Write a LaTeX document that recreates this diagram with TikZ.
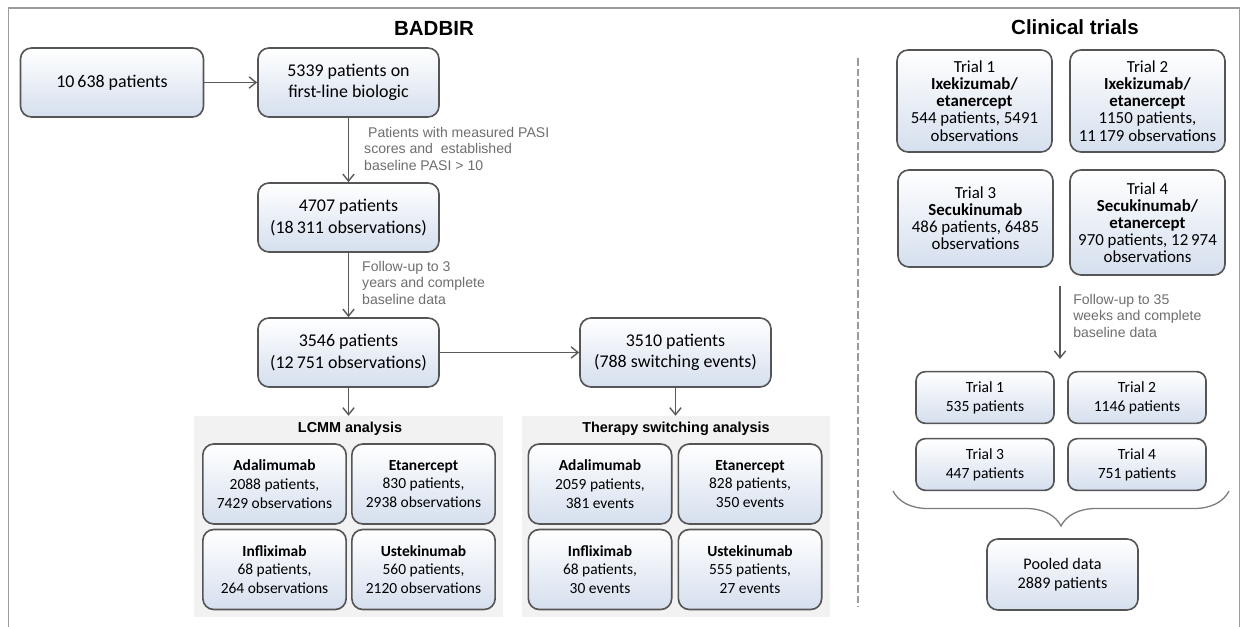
\documentclass[tikz,border=0pt]{standalone}
\usepackage{fontspec}
\setmainfont{Carlito}
\newfontfamily\arialfont{Liberation Sans}
\usetikzlibrary{positioning,arrows.meta,decorations.pathreplacing,calc}

\definecolor{framegray}{RGB}{155,155,155}
\definecolor{boxline}{RGB}{85,85,85}
\definecolor{boxblue}{RGB}{213,223,238}
\definecolor{notegray}{RGB}{110,110,110}
\definecolor{panelgray}{RGB}{242,242,242}
\definecolor{arrowgray}{RGB}{90,90,90}

\begin{document}
\begin{tikzpicture}[
    x=0.03cm, y=-0.03cm,
    box/.style={draw=boxline, line width=1.4pt, rounded corners=0.33cm,
        top color=white, bottom color=boxblue, align=center, inner sep=0pt},
    bigbox/.style={box, minimum width=5.43cm, minimum height=2.07cm,
        font=\fontsize{15.3}{18.5}\selectfont},
    drugbox/.style={box, minimum width=4.3cm, minimum height=2.4cm,
        font=\fontsize{13.2}{16}\selectfont},
    trialbox/.style={box, minimum width=4.65cm,
        font=\fontsize{14.4}{14.6}\selectfont},
    smallbox/.style={box, rounded corners=0.28cm, minimum width=4.14cm,
        minimum height=1.55cm, font=\fontsize{13.3}{16}\selectfont},
    panel/.style={fill=panelgray, draw=none, minimum width=9.25cm,
        minimum height=6.03cm, inner sep=0pt},
    flow/.style={draw=arrowgray, line width=1.2pt,
        -{Straight Barb[length=2.1mm,width=3.4mm]}},
    note/.style={text=notegray, anchor=north west, inner sep=0pt, align=left,
        font=\arialfont\fontsize{12}{14}\selectfont},
    heading/.style={font=\arialfont\bfseries\fontsize{17.5}{20}\selectfont},
    subheading/.style={font=\arialfont\bfseries\fontsize{12.3}{14}\selectfont}
]
    \useasboundingbox (0,0) rectangle (1241,627);

    % Rahmen (unten offen)
    \draw[framegray, line width=1.5pt] (8.5,627) -- (8.5,8) -- (1239.5,8) -- (1239.5,627);
    % Trennlinie
    \draw[framegray, line width=1.3pt, dash pattern=on 6.5pt off 2.5pt] (858,58) -- (858,607);

    % Titel
    \node[heading] (tbadbir) at (434,28) {BADBIR};
    \node[heading] (ttrials) at (1075,27) {Clinical trials};

    % BADBIR-Kette
    \node[bigbox, minimum width=5.49cm] (all) at (112,82.5) {10\,638 patients};
    \node[bigbox] (first) at (348.5,82.5) {5339 patients on\\first-line biologic};
    \node[bigbox] (pasi) at (348.5,217.5) {4707 patients\\(18\,311 observations)};
    \node[bigbox] (follow) at (348.5,352.5) {3546 patients\\(12\,751 observations)};
    \node[bigbox, minimum width=5.73cm] (switch) at (675.5,352.5) {3510 patients\\(788 switching events)};

    \node[note] (note1) at (364,127) {\ Patients with measured PASI\\scores and\ \ established\\baseline PASI > 10};
    \node[note] (note2) at (362,261) {Follow-up to 3\\years and complete\\baseline data};

    % Analysebereiche
    \node[panel] (lcmm) at (348.5,516.5) {};
    \node[panel, minimum width=9.24cm] (swpanel) at (676,516.5) {};
    \node[subheading] (tlcmm) at (350,429) {LCMM analysis};
    \node[subheading] (tsw) at (676,429) {Therapy switching analysis};

    \node[drugbox] (lada) at (274.5,484) {\textbf{Adalimumab}\\2088 patients,\\7429 observations};
    \node[drugbox] (leta) at (423.5,484) {\textbf{Etanercept}\\830 patients,\\2938 observations};
    \node[drugbox] (linf) at (274.5,569.5) {\textbf{Infliximab}\\68 patients,\\264 observations};
    \node[drugbox] (lust) at (423.5,569.5) {\textbf{Ustekinumab}\\560 patients,\\2120 observations};

    \node[drugbox] (sada) at (600,484) {\textbf{Adalimumab}\\2059 patients,\\381 events};
    \node[drugbox] (seta) at (750,484) {\textbf{Etanercept}\\828 patients,\\350 events};
    \node[drugbox] (sinf) at (600,569.5) {\textbf{Infliximab}\\68 patients,\\30 events};
    \node[drugbox] (sust) at (750,569.5) {\textbf{Ustekinumab}\\555 patients,\\27 events};

    % Pfeile BADBIR
    \draw[flow] (all) -- (first);
    \draw[flow] (first) -- (pasi);
    \draw[flow] (pasi) -- (follow);
    \draw[flow] (follow) -- (switch);
    \draw[flow] (follow) -- (lcmm.north);
    \draw[flow] (switch.south) -- (switch.south |- swpanel.north);

    % Studien
    \node[trialbox, minimum height=3.06cm] (trial1) at (974.5,101) {Trial 1\\\textbf{Ixekizumab/}\\\textbf{etanercept}\\544 patients, 5491\\observations};
    \node[trialbox, minimum height=3.06cm] (trial2) at (1147.5,101) {Trial 2\\\textbf{Ixekizumab/}\\\textbf{etanercept}\\1150 patients,\\11\,179 observations};
    \node[trialbox, minimum height=2.91cm] (trial3) at (975.5,218.5) {Trial 3\\\textbf{Secukinumab}\\486 patients, 6485\\observations};
    \node[trialbox, minimum height=3.15cm] (trial4) at (1147.5,222.5) {Trial 4\\\textbf{Secukinumab/}\\\textbf{etanercept}\\970 patients, 12\,974\\observations};

    \coordinate (tout) at (1060,286);
    \coordinate (tin) at (1060,359);
    \draw[flow] (tout) -- (tin);
    \node[note] (note3) at (1073,294) {Follow-up to 35\\weeks and complete\\baseline data};

    \node[smallbox] (s1) at (985,397.5) {Trial 1\\535 patients};
    \node[smallbox] (s2) at (1137,397.5) {Trial 2\\1146 patients};
    \node[smallbox] (s3) at (985,464.5) {Trial 3\\447 patients};
    \node[smallbox] (s4) at (1137,464.5) {Trial 4\\751 patients};

    % Klammer
    \draw[framegray!80!black, line width=1.1pt, decorate,
        decoration={brace, mirror, amplitude=1.05cm}] (893,491) -- (1229,491);

    \node[box, minimum width=4.53cm, minimum height=2.13cm,
        font=\fontsize{13.8}{16.5}\selectfont] (pooled) at (1062.5,574.5) {Pooled data\\2889 patients};
\end{tikzpicture}
\end{document}
